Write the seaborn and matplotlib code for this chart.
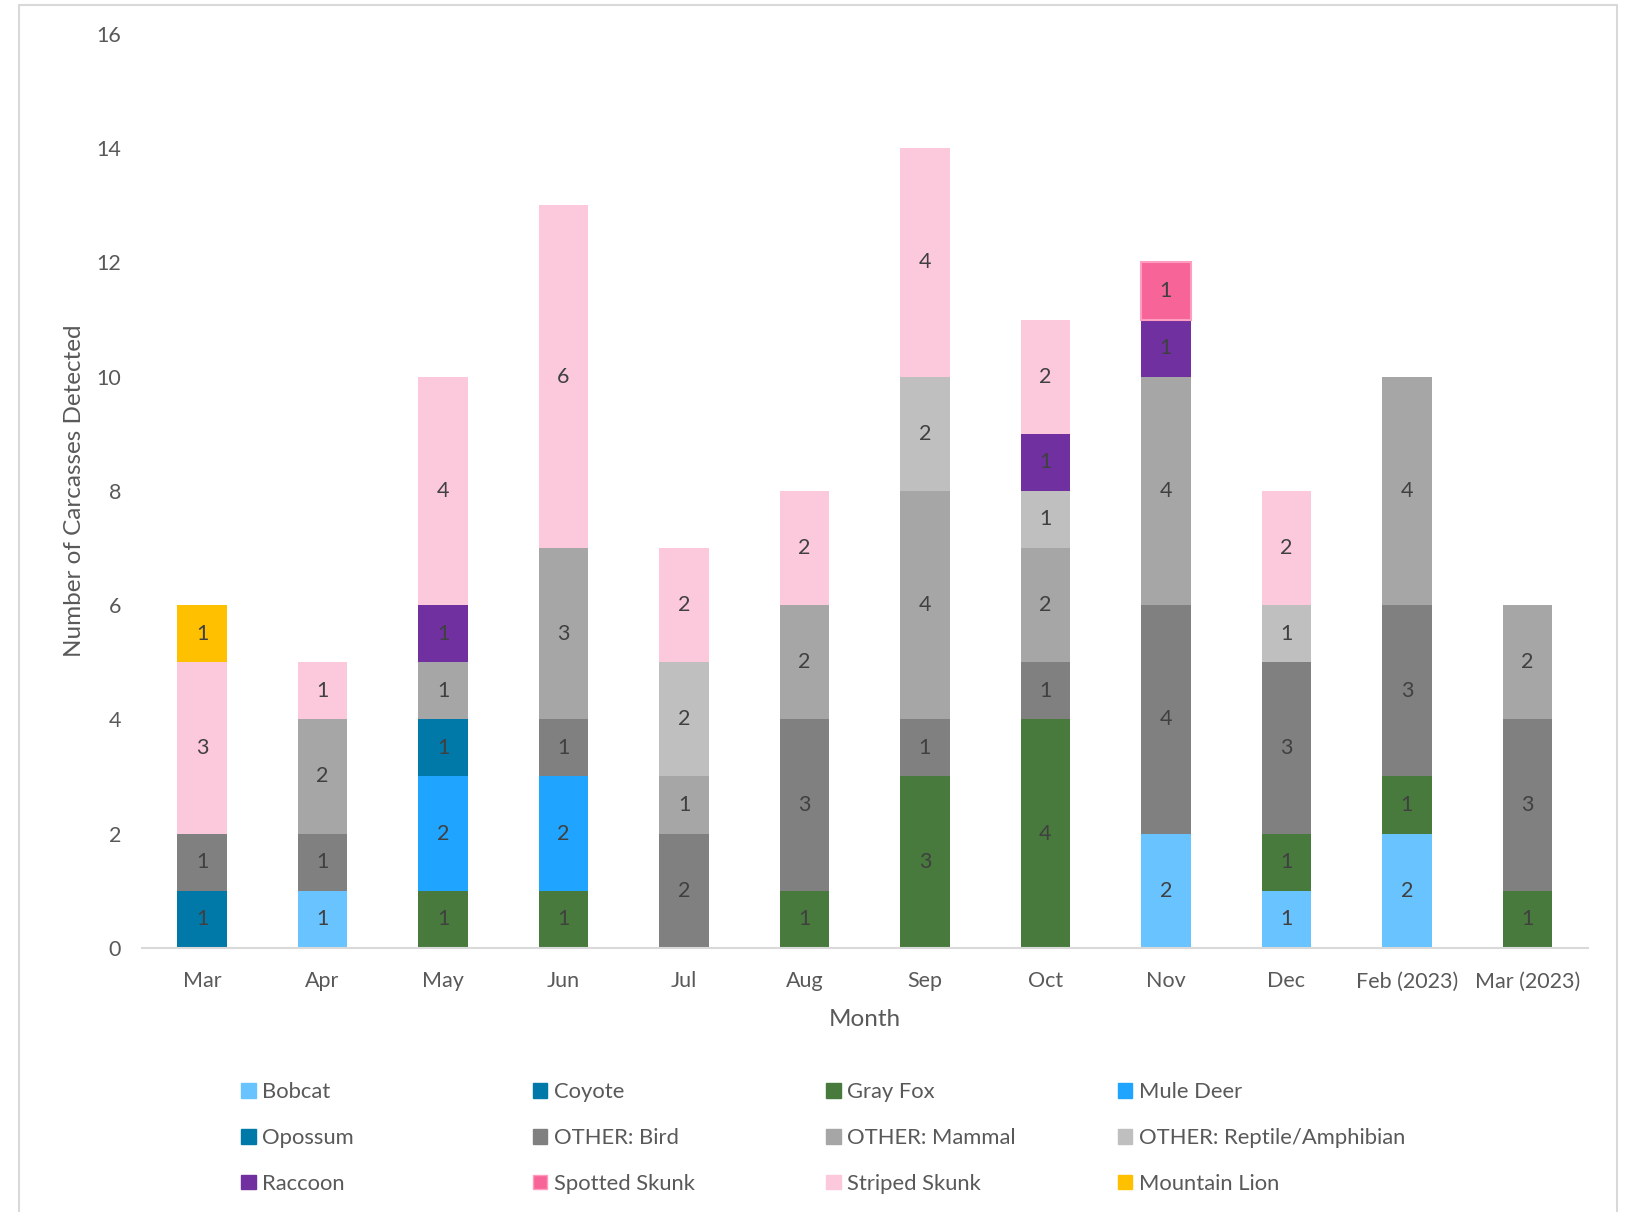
import numpy as np
import pandas as pd
import matplotlib.pyplot as plt
import matplotlib.patches as mpatches
import seaborn as sns

MONTHS = ["Mar", "Apr", "May", "Jun", "Jul", "Aug", "Sep", "Oct", "Nov", "Dec",
          "Feb (2023)", "Mar (2023)"]

# counts per month, stacked bottom -> top in this order
BOBCAT      = [0, 1, 0, 0, 0, 0, 0, 0, 2, 1, 2, 0]
COYOTE      = [1, 0, 0, 0, 0, 0, 0, 0, 0, 0, 0, 0]
GRAY_FOX    = [0, 0, 1, 1, 0, 1, 3, 4, 0, 1, 1, 1]
MULE_DEER   = [0, 0, 2, 2, 0, 0, 0, 0, 0, 0, 0, 0]
OPOSSUM     = [0, 0, 1, 0, 0, 0, 0, 0, 0, 0, 0, 0]
BIRD        = [1, 1, 0, 1, 2, 3, 1, 1, 4, 3, 3, 3]
MAMMAL      = [0, 2, 1, 3, 1, 2, 4, 2, 4, 0, 4, 2]
REPTILE     = [0, 0, 0, 0, 2, 0, 2, 1, 0, 1, 0, 0]
RACCOON     = [0, 0, 1, 0, 0, 0, 0, 1, 1, 0, 0, 0]
SPOTTED     = [0, 0, 0, 0, 0, 0, 0, 0, 1, 0, 0, 0]
STRIPED     = [3, 1, 4, 6, 2, 2, 4, 2, 0, 2, 0, 0]
MTN_LION    = [1, 0, 0, 0, 0, 0, 0, 0, 0, 0, 0, 0]

SPECIES = ["Bobcat", "Coyote", "Gray Fox", "Mule Deer", "Opossum", "OTHER: Bird",
           "OTHER: Mammal", "OTHER: Reptile/Amphibian", "Raccoon", "Spotted Skunk",
           "Striped Skunk", "Mountain Lion"]
COUNTS = [BOBCAT, COYOTE, GRAY_FOX, MULE_DEER, OPOSSUM, BIRD, MAMMAL, REPTILE,
          RACCOON, SPOTTED, STRIPED, MTN_LION]
COLORS = ["#69C3FF", "#0078A8", "#487A3D", "#1FA5FF", "#0078A8", "#808080",
          "#A6A6A6", "#BFBFBF", "#7030A0", "#F76497", "#FCC9DC", "#FFC000"]
EDGES = {"Spotted Skunk": "#FF9CC0"}

TXT = "#595959"

sns.set_theme(style="white")
plt.rcParams["font.family"] = ["Lato", "DejaVu Sans"]

fig = plt.figure(figsize=(16.3, 12.12), dpi=100)
ax = fig.add_axes([0.087, 0.218, 0.887, 0.754])

# ── stacked bars ───────────────────────────────────────────────────────────────
base = np.zeros(len(MONTHS))
for name, vals, color in zip(SPECIES, COUNTS, COLORS):
    df = pd.DataFrame({"Month": MONTHS, "Count": vals, "Base": base})
    df = df[df["Count"] > 0]
    if len(df) == 0:
        continue
    edge = EDGES.get(name, color)
    sns.barplot(data=df, x="Month", y="Count", order=MONTHS, color=color,
                saturation=1, width=0.41, errorbar=None, bottom=df["Base"].values,
                edgecolor=edge, linewidth=1.5 if name in EDGES else 0, ax=ax)
    ax.bar_label(ax.containers[-1], labels=[str(v) for v in df["Count"]],
                 label_type="center", color="#404040", fontsize=15.5)
    base = base + np.array(vals)

ax.set_xlim(-0.5, len(MONTHS) - 0.5)
ax.set_ylim(0, 16)
ax.set_yticks(range(0, 17, 2))
for s in ["top", "right", "left"]:
    ax.spines[s].set_visible(False)
ax.spines["bottom"].set_color("#D9D9D9")
ax.spines["bottom"].set_linewidth(1.5)
ax.tick_params(axis="both", length=0, colors=TXT, labelsize=15.5)
ax.tick_params(axis="x", pad=17)
ax.tick_params(axis="y", pad=15)
ax.set_xlabel("Month", color=TXT, fontsize=17.5, labelpad=13)
ax.set_ylabel("Number of Carcasses Detected", color=TXT, fontsize=17.5, labelpad=8)

# ── legend: 4 columns placed by hand ──────────────────────────────────────────
col_x = [0.148, 0.327, 0.507, 0.686]
for c in range(4):
    handles = []
    for r in range(3):
        i = r * 4 + c
        handles.append(mpatches.Patch(facecolor=COLORS[i],
                                      edgecolor=EDGES.get(SPECIES[i], COLORS[i]),
                                      label=SPECIES[i]))
    fig.legend(handles=handles, loc="upper left", bbox_to_anchor=(col_x[c], 0.107),
               frameon=False, fontsize=15.8, handlelength=0.65, handleheight=0.65,
               handletextpad=0.3, labelspacing=1.17, labelcolor=TXT,
               borderaxespad=0, borderpad=0)

# light frame around the chart area
fig.patches.append(mpatches.Rectangle((19 / 1630, -0.01), 1598 / 1630, 1.0 - 5 / 1212 + 0.01,
                                      transform=fig.transFigure, fill=False,
                                      edgecolor="#D9D9D9", linewidth=1.5))

fig.savefig("out.png", dpi=100)
